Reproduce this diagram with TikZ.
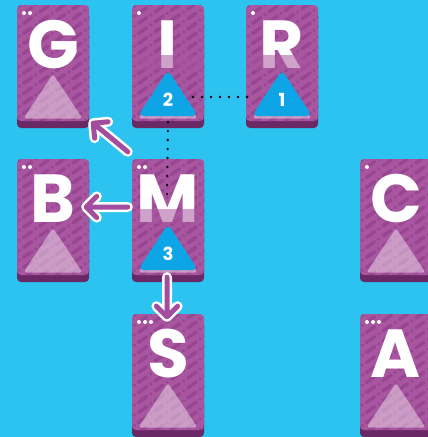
\documentclass[tikz,border=0pt]{standalone}
\usepackage{fontspec}
\newfontfamily\cardfont{Poppins}
\usetikzlibrary{calc}
\definecolor{bgblue}{HTML}{2CC3F1}
\definecolor{cardpurple}{HTML}{A8569F}
\definecolor{pattpurple}{HTML}{984691}
\definecolor{cardshade}{HTML}{6A2865}
\definecolor{tokenblue}{HTML}{0EA5E6}
\definecolor{arrowpurple}{HTML}{A24D9D}
\tikzset{
  cardbody/.style={fill=cardpurple, rounded corners=4pt, minimum width=72pt, minimum height=116pt, inner sep=0pt, draw=none},
  patt/.style={draw=pattpurple, line width=3.4pt, line cap=round, dash pattern=on 10pt off 5pt on 0.1pt off 5pt},
  lighttri/.style={fill=white, fill opacity=0.42, rounded corners=3pt},
  letter/.style={anchor=base, text=white, inner sep=0pt, font=\cardfont\bfseries\fontsize{68}{68}\selectfont},
  bluetok/.style={fill=tokenblue, rounded corners=6pt},
  num/.style={text=white, inner sep=0pt, font=\cardfont\bfseries\fontsize{18}{18}\selectfont},
  dotline/.style={draw=black, line width=2.6pt, line cap=round, dash pattern=on 0pt off 9pt},
  arrowout/.style={draw=white, line width=10pt, line cap=round, line join=round},
  arrowin/.style={draw=arrowpurple, line width=5pt, line cap=round, line join=round},
}
\newcommand\mycard[5]{%
  \begin{scope}[shift={(#2,#3)}]
    \fill[cardshade, rounded corners=4pt] (0,8) rectangle (72,123);
    \node[cardbody] (#1) at (36,58) {};
    \begin{scope}
      \clip[rounded corners=4pt] (0,0) rectangle (72,116);
      \foreach \k in {-1,...,20} \draw[patt] (-10,\k*10) -- ++(110,-77);
    \end{scope}
    \fill[lighttri] (36,69) -- (65.5,113.5) -- (6.5,113.5) -- cycle;
    \node[letter] (#1-l) at (36,63) {#4};
    \foreach \d in {1,...,#5} \fill[white] (1+6*\d,8) circle (2pt);
  \end{scope}}
\newcommand\bluetoken[4]{%
  \begin{scope}[shift={(#2,#3)}]
    \fill[bluetok] (36,65) -- (66,111) -- (6,111) -- cycle;
    \node[num] (#1) at (36,95) {#4};
    \coordinate (#1e) at (61,92);
    \coordinate (#1w) at (8,92);
    \coordinate (#1s) at (36,117);
  \end{scope}}
\newcommand\myarrow[2]{%
  \draw[arrowout] (#1) -- (#2) ($(#2)!15pt!45:(#1)$) -- (#2) -- ($(#2)!15pt!-45:(#1)$);
  \draw[arrowin] (#1) -- (#2) ($(#2)!15pt!45:(#1)$) -- (#2) -- ($(#2)!15pt!-45:(#1)$);}
\begin{document}
\begin{tikzpicture}[x=1pt, y=-1pt]
  \clip (0,0) rectangle (428,437);
  \fill[bgblue] (0,0) rectangle (428,437);
  % row 1
  \mycard{G}{17}{5}{G}{2}
  \mycard{I}{132}{5}{I}{1}
  \mycard{R}{246}{5}{R}{1}
  % row 2
  \mycard{B}{17}{159}{B}{2}
  \mycard{M}{132}{159}{M}{2}
  \mycard{C}{360}{159}{C}{1}
  % row 3
  \mycard{S}{132}{314}{S}{3}
  \mycard{A}{360}{314}{A}{3}
  % faded lower parts of letters under tokens
  \fill[cardpurple, opacity=0.55] (136,55) rectangle (200,70);
  \fill[cardpurple, opacity=0.55] (250,55) rectangle (314,70);
  \fill[cardpurple, opacity=0.55] (136,209) rectangle (200,224);
  % tokens
  \bluetoken{t2}{132}{5}{2}
  \bluetoken{t1}{246}{5}{1}
  \bluetoken{t3}{132}{159}{3}
  % dotted connectors
  \coordinate (dotend) at (167,199);
  \draw[dotline] (t2e) -- (t1w);
  \draw[dotline] (t2s) -- (dotend);
  % arrows from M
  \coordinate (a1s) at ($(M.north west)+(-4,-7)$);
  \coordinate (a1e) at ($(G.south east)+(4,2)$);
  \coordinate (a2s) at ($(M.west)+(-4,-10)$);
  \coordinate (a2e) at ($(B.east)+(-3,-10)$);
  \coordinate (a3s) at ($(M.south)+(-1,2)$);
  \coordinate (a3e) at ($(S.north)+(-1,3)$);
  \myarrow{a1s}{a1e}
  \myarrow{a2s}{a2e}
  \myarrow{a3s}{a3e}
\end{tikzpicture}
\end{document}
